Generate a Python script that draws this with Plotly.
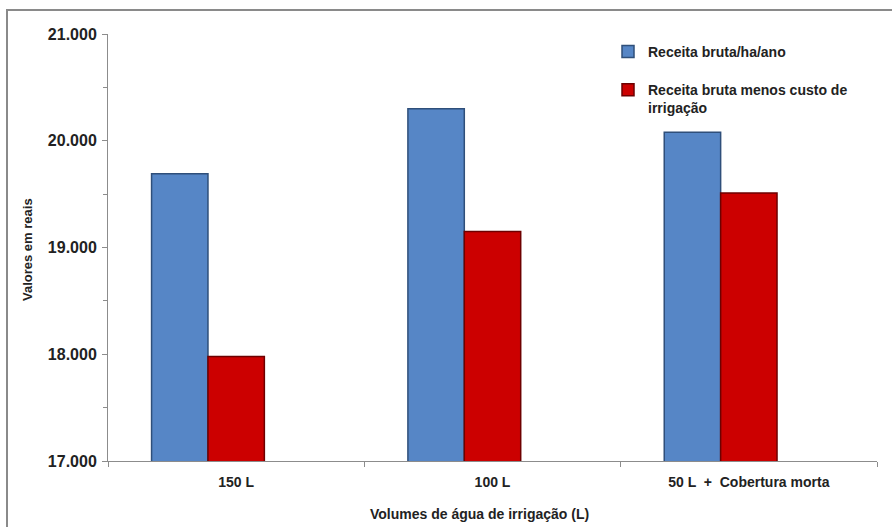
import plotly.graph_objects as go

# Data
categories = ["150 L", "100 L", "50 L  +  Cobertura morta"]
receita_bruta = [19690, 20300, 20080]
receita_liquida = [17980, 19150, 19510]
serie_vazia = [None, None, None]

series_names = ["Receita bruta/ha/ano", "Receita bruta menos custo de<br>irrigação"]
y_ticks = [17000, 18000, 19000, 20000, 21000]
y_tick_text = ["17.000", "18.000", "19.000", "20.000", "21.000"]

BLUE = "#5686C6"
BLUE_EDGE = "#2F4F7A"
RED = "#CC0000"
RED_EDGE = "#6E0000"
AXIS = "#8C8C8C"
TXT = "#222222"
FONT = "Liberation Sans, Arial, sans-serif"
NARROW = "Liberation Sans Narrow, Arial Narrow, Liberation Sans, Arial, sans-serif"

fig = go.Figure()
fig.add_trace(go.Bar(
    x=categories, y=receita_bruta, name="<b>%s</b>" % series_names[0],
    marker=dict(color=BLUE, line=dict(color=BLUE_EDGE, width=1.5)),
    legendgroup="a",
))
fig.add_trace(go.Bar(
    x=categories, y=receita_liquida, name="<b>%s</b>" % series_names[1],
    marker=dict(color=RED, line=dict(color=RED_EDGE, width=1.5)),
    legendgroup="b",
))
# empty third slot of each group
fig.add_trace(go.Bar(
    x=categories, y=serie_vazia, showlegend=False, hoverinfo="skip",
    marker=dict(color="#9BBB59"),
))

W, H = 892, 527
L, R, T, B = 108, 15, 34, 66
pw, ph = W - L - R, H - T - B

fig.update_layout(
    width=W, height=H,
    margin=dict(l=L, r=R, t=T, b=B),
    paper_bgcolor="white", plot_bgcolor="white",
    barmode="group", bargap=0.34, bargroupgap=0.0,
    font=dict(family=FONT, color=TXT),
    showlegend=True,
    legend=dict(
        x=(608 - L) / pw, y=1.0 + (T - 36) / ph, xanchor="left", yanchor="top",
        font=dict(family=FONT, size=14, color=TXT),
        traceorder="grouped", tracegroupgap=17, valign="top",
        bgcolor="rgba(0,0,0,0)", itemwidth=30,
    ),
    xaxis=dict(
        type="category",
        showline=True, linecolor=AXIS, linewidth=1,
        ticks="outside", tickson="boundaries", ticklen=5, tickcolor=AXIS,
        tickfont=dict(family=NARROW, size=14, color=TXT),
        ticklabelstandoff=8,
        tickvals=categories, ticktext=["<b>%s</b>" % c for c in categories],
        showgrid=False, zeroline=False,
    ),
    yaxis=dict(
        range=[17000, 21000],
        tickvals=y_ticks, ticktext=["<b>%s</b>" % t for t in y_tick_text],
        tickfont=dict(family=FONT, size=16, color=TXT),
        ticklabelstandoff=2,
        showline=True, linecolor=AXIS, linewidth=1,
        ticks="outside", ticklen=5, tickcolor=AXIS,
        minor=dict(dtick=500, ticks="outside", ticklen=4, tickcolor=AXIS),
        showgrid=False, zeroline=False,
    ),
)

# axis titles
fig.add_annotation(
    text="<b>Volumes de água de irrigação (L)</b>", xref="paper", yref="paper",
    x=(479 - L) / pw, y=-(514 - T - ph) / ph, xanchor="center", yanchor="middle",
    showarrow=False, font=dict(family=NARROW, size=14, color=TXT),
)
fig.add_annotation(
    text="<b>Valores em reais</b>", xref="paper", yref="paper",
    x=(27 - L) / pw, y=1 - (250 - T) / ph, xanchor="center", yanchor="middle",
    textangle=-90, showarrow=False, font=dict(family=FONT, size=13, color=TXT),
)

# outer chart frame
fig.add_shape(
    type="rect", xref="paper", yref="paper",
    x0=(7 - L) / pw, x1=(W + 5 - L) / pw,
    y0=-(H + 5 - T - ph) / ph, y1=1 + (T - 10) / ph,
    line=dict(color="#8A8A8A", width=2), fillcolor="rgba(0,0,0,0)", layer="below",
)

fig.write_html("out.html")
